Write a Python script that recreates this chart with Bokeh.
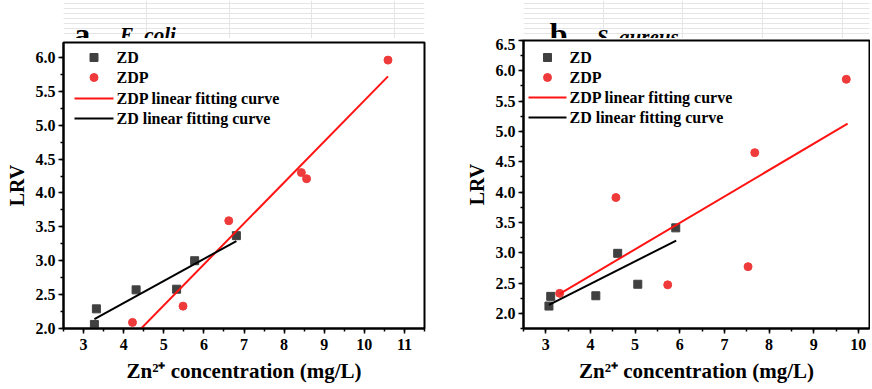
from bokeh.plotting import figure
from bokeh.layouts import row, column
from bokeh.models import Range1d, SingleIntervalTicker, NumeralTickFormatter
from bokeh.core.properties import value
from bokeh.embed import file_html
from bokeh.resources import INLINE

# ---------------- data ----------------
# Panel a: E. coli
a_zd_x = [3.27, 3.32, 4.31, 5.32, 5.77, 6.81]
a_zd_y = [2.06, 2.29, 2.57, 2.58, 3.00, 3.37]
a_zdp_x = [4.22, 5.48, 6.62, 8.43, 8.56, 10.59]
a_zdp_y = [2.09, 2.33, 3.59, 4.30, 4.21, 5.96]
a_zd_fit_x = [3.27, 6.81]
a_zd_fit_y = [2.14, 3.29]
a_zdp_fit_x = [4.22, 10.59]
a_zdp_fit_y = [1.87, 5.72]

# Panel b: S. aureus
b_zd_x = [3.07, 3.11, 4.12, 4.61, 5.06, 5.91]
b_zd_y = [2.12, 2.28, 2.29, 2.99, 2.48, 3.41]
b_zdp_x = [3.31, 4.57, 5.73, 7.53, 7.68, 9.73]
b_zdp_y = [2.33, 3.91, 2.47, 2.77, 4.65, 5.86]
b_zd_fit_x = [3.07, 5.92]
b_zd_fit_y = [2.14, 3.20]
b_zdp_fit_x = [3.31, 9.76]
b_zdp_fit_y = [2.32, 5.13]

legend_labels = ["ZD", "ZDP", "ZDP linear fitting curve", "ZD linear fitting curve"]
x_label = "Zn\u00b2\u207a concentration (mg/L)"
y_label = "LRV"

FONT = "Liberation Serif"
SQ_COLOR = "#404040"
DOT_COLOR = "#ee3a3a"
RED = "#ff1414"
HEADER_H = 38


def make_header(width, letter, lx, ly, title, tx, ty):
    h = figure(width=width, height=HEADER_H, output_backend="svg", toolbar_location=None,
               title=None, x_range=Range1d(0, width), y_range=Range1d(0, HEADER_H),
               x_axis_location=None, y_axis_location=None,
               min_border_left=0, min_border_right=0, min_border_top=0, min_border_bottom=0)
    h.outline_line_color = None
    h.text(x=[lx], y=[ly], text=[letter], text_font=value(FONT), text_font_style="bold",
           text_font_size="32px", text_color="black", text_baseline="alphabetic")
    h.text(x=[tx], y=[ty], text=[title], text_font=value(FONT), text_font_style="bold italic",
           text_font_size="21px", text_color="black", text_baseline="alphabetic")
    return h


def make_panel(zd_x, zd_y, zdp_x, zdp_y, zd_fx, zd_fy, zdp_fx, zdp_fy,
               xr, yr, width, height, borders, frame_w, frame_h, leg):
    bl, br, bt, bb = borders
    p = figure(width=width, height=height, output_backend="svg", toolbar_location=None,
               title=None, x_range=Range1d(*xr), y_range=Range1d(*yr),
               min_border_left=bl, min_border_right=br, min_border_top=bt, min_border_bottom=bb)
    p.xgrid.visible = False
    p.ygrid.visible = False
    p.outline_line_color = "black"
    p.outline_line_width = 2

    p.scatter(zd_x, zd_y, marker="square", size=8, fill_color=SQ_COLOR, line_color=SQ_COLOR)
    p.scatter(zdp_x, zdp_y, marker="circle", size=8, fill_color=DOT_COLOR, line_color=DOT_COLOR)
    p.line(zdp_fx, zdp_fy, line_color=RED, line_width=2)
    p.line(zd_fx, zd_fy, line_color="black", line_width=2)

    # legend key, placed in pixel offsets from the frame's top-left corner
    def px(v):
        return xr[0] + v * (xr[1] - xr[0]) / frame_w

    def py(v):
        return yr[1] - v * (yr[1] - yr[0]) / frame_h

    g0, g1, lab_x, rows = leg
    gm = (g0 + g1) / 2.0
    p.scatter([px(gm)], [py(rows[0])], marker="square", size=8,
              fill_color=SQ_COLOR, line_color=SQ_COLOR)
    p.scatter([px(gm)], [py(rows[1])], marker="circle", size=8,
              fill_color=DOT_COLOR, line_color=DOT_COLOR)
    p.segment(x0=[px(g0)], y0=[py(rows[2])], x1=[px(g1)], y1=[py(rows[2])],
              line_color=RED, line_width=2)
    p.segment(x0=[px(g0)], y0=[py(rows[3])], x1=[px(g1)], y1=[py(rows[3])],
              line_color="black", line_width=2)
    p.text(x=[px(lab_x)] * 4, y=[py(r) for r in rows], text=legend_labels,
           text_font=value(FONT), text_font_style="bold", text_font_size="16px",
           text_color="black", text_baseline="middle", text_align="left")

    p.xaxis.ticker = SingleIntervalTicker(interval=1, num_minor_ticks=2)
    p.yaxis.ticker = SingleIntervalTicker(interval=0.5, num_minor_ticks=2)
    p.xaxis.formatter = NumeralTickFormatter(format="0")
    p.yaxis.formatter = NumeralTickFormatter(format="0.0")
    for ax in (p.xaxis[0], p.yaxis[0]):
        ax.axis_line_width = 2
        ax.axis_line_color = "black"
        ax.major_tick_line_width = 1.5
        ax.minor_tick_line_width = 1.5
        ax.major_tick_out = 5
        ax.major_tick_in = 0
        ax.minor_tick_out = 3
        ax.minor_tick_in = 0
        ax.major_label_text_font = FONT
        ax.major_label_text_font_style = "bold"
        ax.major_label_text_font_size = "16px"
        ax.major_label_text_color = "black"
        ax.axis_label_text_font = FONT
        ax.axis_label_text_font_style = "bold"
        ax.axis_label_text_color = "black"
    p.xaxis.axis_label_text_font_size = "21px"
    p.yaxis.axis_label_text_font_size = "20px"
    p.xaxis.axis_label = x_label
    p.yaxis.axis_label = y_label
    p.xaxis.major_label_standoff = 5
    p.xaxis.axis_label_standoff = 6
    p.yaxis.major_label_standoff = 3
    p.yaxis.axis_label_standoff = 5
    return p


ha = make_header(436, "a", 13, 5, "E. coli", 68, 4)
pa = make_panel(a_zd_x, a_zd_y, a_zdp_x, a_zdp_y,
                a_zd_fit_x, a_zd_fit_y, a_zdp_fit_x, a_zdp_fit_y,
                xr=(2.5, 11.5), yr=(2.0, 6.22), width=436, height=349,
                borders=(63, 12, 4, 59), frame_w=361, frame_h=286,
                leg=(11, 50, 53, [15, 35, 56, 76]))

hb = make_header(434, "b", 33, 5, "S. aureus", 92, 2)
pb = make_panel(b_zd_x, b_zd_y, b_zdp_x, b_zdp_y,
                b_zd_fit_x, b_zd_fit_y, b_zdp_fit_x, b_zdp_fit_y,
                xr=(2.5, 10.25), yr=(1.75, 6.5), width=434, height=349,
                borders=(87, 1, 2, 59), frame_w=346, frame_h=288,
                leg=(5, 43, 46, [17, 37, 57, 77]))

layout = row(column(ha, pa), column(hb, pb))
open("out.html", "w").write(file_html(layout, INLINE))
